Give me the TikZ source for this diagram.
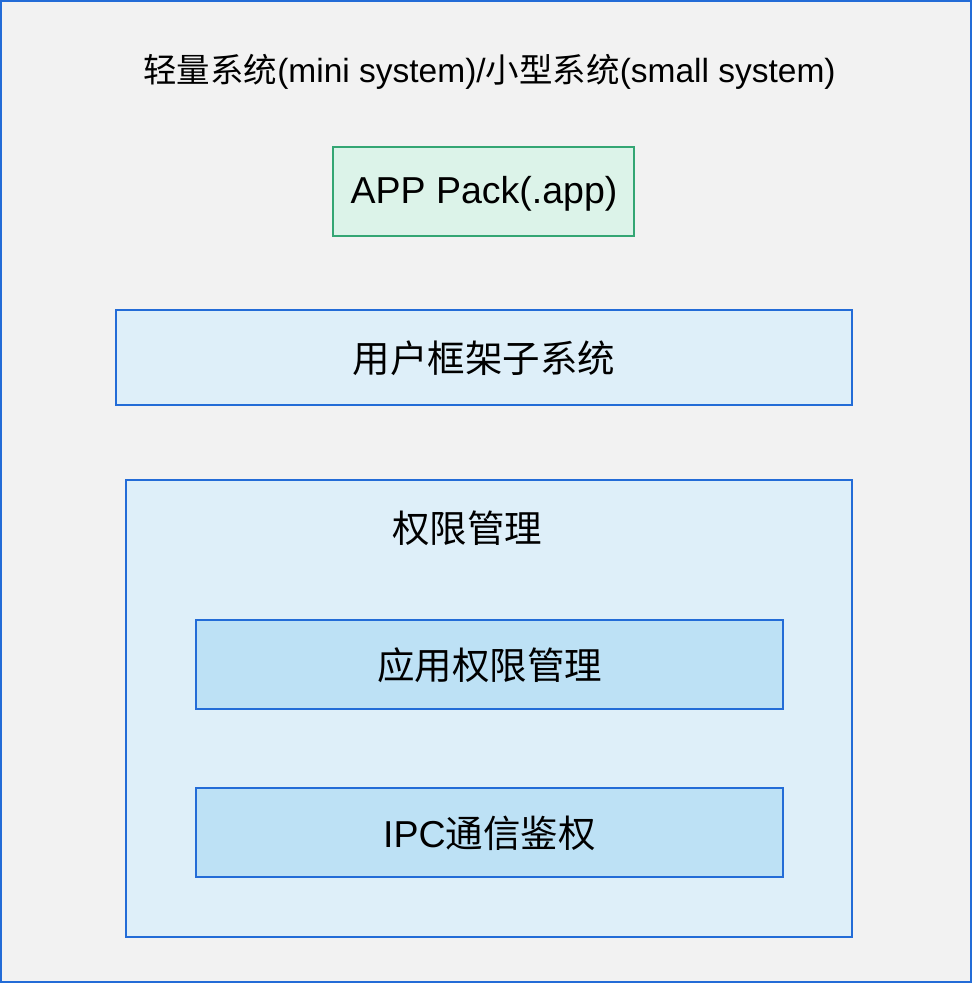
\documentclass[tikz,border=0pt]{standalone}
\usepackage{fontspec}
\setmainfont{Liberation Sans}
\newfontfamily\cjk{Noto Sans CJK SC}
\newcommand{\zh}[1]{{\cjk #1}}
\definecolor{bgc}{RGB}{242,242,242}
\definecolor{bluec}{RGB}{35,108,215}
\definecolor{lightc}{RGB}{222,239,249}
\definecolor{midc}{RGB}{189,225,245}
\definecolor{greenf}{RGB}{220,243,233}
\definecolor{greend}{RGB}{52,166,116}
\begin{document}
\begin{tikzpicture}[x=1pt,y=-1pt,
  box/.style={draw=bluec,line width=1.5pt,fill=lightc},
  inbox/.style={draw=bluec,line width=1.5pt,fill=midc},
  appbox/.style={draw=greend,line width=1.5pt,fill=greenf},
  lbl/.style={font=\fontsize{37.5}{44}\selectfont,inner sep=0pt,anchor=center},
  ttl/.style={font=\fontsize{33.5}{40}\selectfont,inner sep=0pt,anchor=center}]
\useasboundingbox (0,0) rectangle (972,983);
\draw[fill=bgc,draw=bluec,line width=2pt] (1,1) rectangle (971,982);
\node[ttl] (title) at (489.5,72) {\zh{轻量系统}(mini system)/\zh{小型系统}(small system)};
\draw[appbox] (333,147) rectangle (634,236);
\node[lbl] (app) at (484,194) {APP Pack(.app)};
\draw[box] (116,310) rectangle (852,405);
\node[lbl] (user) at (484,358.5) {\zh{用户框架子系统}};
\draw[box] (126,480) rectangle (852,937);
\node[lbl] (perm) at (467,528) {\zh{权限管理}};
\draw[inbox] (196,620) rectangle (783,709);
\node[lbl] (apperm) at (489.5,665.5) {\zh{应用权限管理}};
\draw[inbox] (196,788) rectangle (783,877);
\node[lbl] (ipc) at (489.5,833.5) {IPC\zh{通信鉴权}};
\end{tikzpicture}
\end{document}
